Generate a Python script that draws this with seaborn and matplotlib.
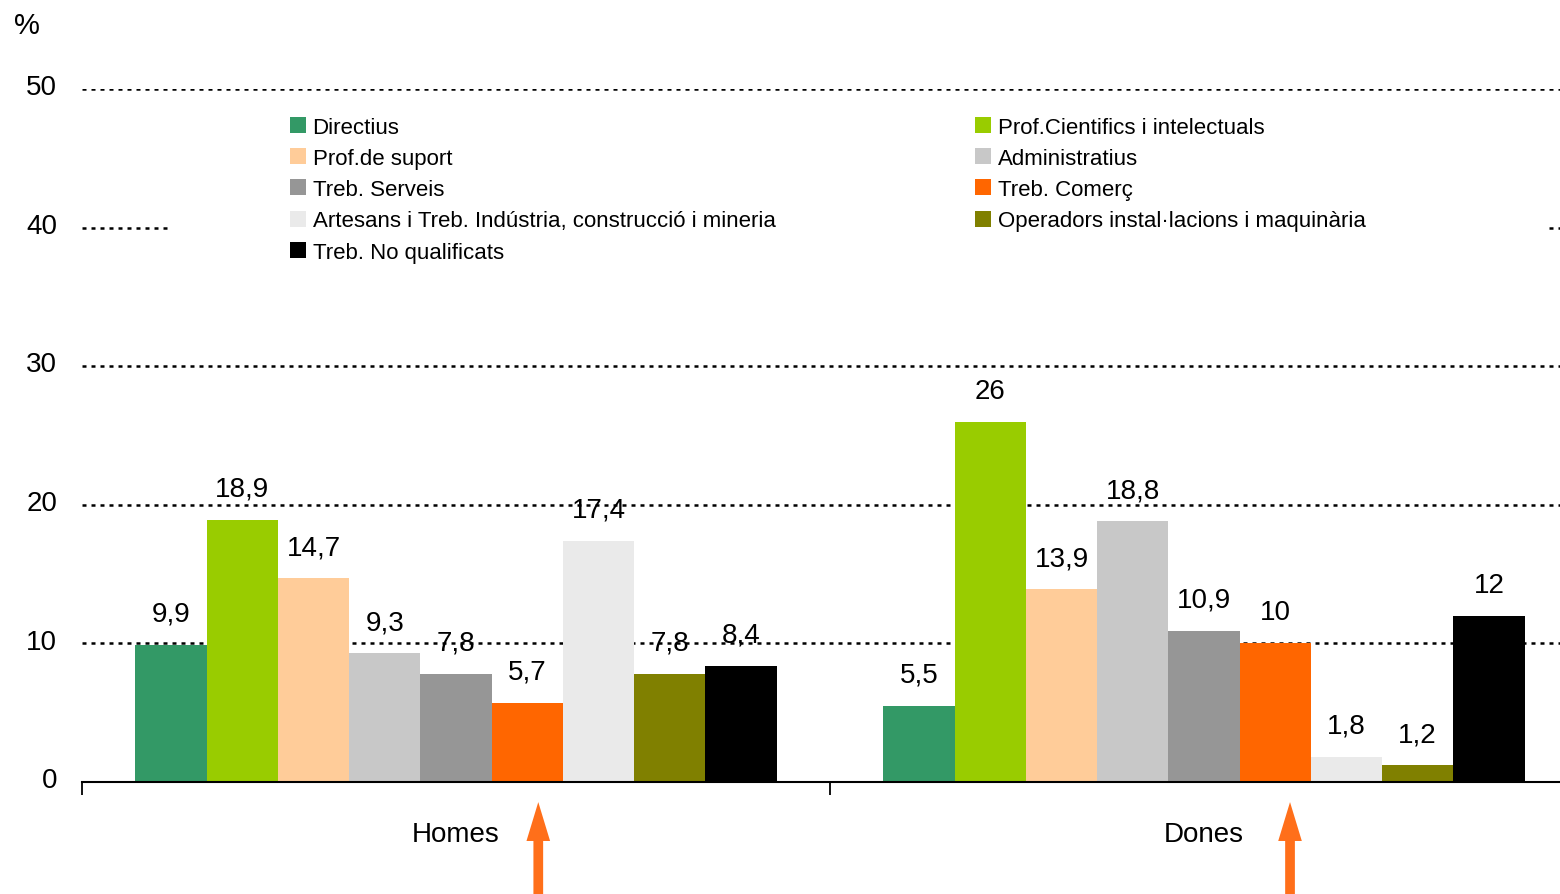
import matplotlib
matplotlib.use("Agg")
import matplotlib.pyplot as plt
from matplotlib.patches import Patch, Rectangle
from matplotlib.transforms import ScaledTranslation
import seaborn as sns
import pandas as pd

# ---- data ----
groups = ["Homes", "Dones"]
occupations = [
    "Directius",
    "Prof.Cientifics i intelectuals",
    "Prof.de suport",
    "Administratius",
    "Treb. Serveis",
    "Treb. Comerç",
    "Artesans i Treb. Indústria, construcció i mineria",
    "Operadors instal·lacions i maquinària",
    "Treb. No qualificats",
]
homes_values = [9.9, 18.9, 14.7, 9.3, 7.8, 5.7, 17.4, 7.8, 8.4]
dones_values = [5.5, 26.0, 13.9, 18.8, 10.9, 10.0, 1.8, 1.2, 12.0]
colors = ["#339966", "#99CC00", "#FFCC99", "#C8C8C8", "#969696",
          "#FF6600", "#EAEAEA", "#808000", "#000000"]
yticks = [0, 10, 20, 30, 40, 50]
arrow_x = [0.11, 1.115]

rows = []
for g, vals in zip(groups, [homes_values, dones_values]):
    for occ, v in zip(occupations, vals):
        rows.append({"grup": g, "ocupacio": occ, "valor": v})
df = pd.DataFrame(rows)

sns.set_style("white")
plt.rcParams["font.family"] = ["Liberation Sans", "DejaVu Sans"]
plt.rcParams["text.color"] = "black"
plt.rcParams["xtick.color"] = "black"
plt.rcParams["ytick.color"] = "black"
plt.rcParams["axes.labelcolor"] = "black"

W, H = 1560, 895
fig = plt.figure(figsize=(W / 100, H / 100), dpi=100)
ax = fig.add_axes([82 / W, 112 / H, 1496 / W, 693 / H])

sns.barplot(data=df, x="grup", y="valor", hue="ocupacio", order=groups,
            hue_order=occupations, palette=colors, width=0.857, gap=0,
            saturation=1, legend=False, ax=ax, linewidth=0, err_kws={"linewidth": 0})

ax.set_xlim(-0.5, 1.5)
ax.set_ylim(0, 50)
ax.set_yticks(yticks)
ax.set_yticklabels([str(t) for t in yticks], fontsize=20, color="black")
ax.tick_params(axis="y", length=0, pad=18, labelcolor="black")
shift = ScaledTranslation(0, 3.5 / 72, fig.dpi_scale_trans)
for lbl in ax.get_yticklabels():
    lbl.set_transform(lbl.get_transform() + shift)
ax.set_xlabel("")
ax.set_ylabel("")

ax.set_xticks([0, 1])
ax.set_xticklabels(groups, fontsize=20, color="black")
ax.tick_params(axis="x", which="major", length=0, pad=28, labelcolor="black")
ax.set_xticks([-0.5, 0.5, 1.5], minor=True)
ax.tick_params(axis="x", which="minor", bottom=True, length=9, width=1.3,
               direction="out", color="black")

for s in ["left", "top", "right"]:
    ax.spines[s].set_visible(False)
ax.spines["bottom"].set_color("black")
ax.spines["bottom"].set_linewidth(1.5)
ax.spines["bottom"].set_zorder(5)

ax.set_axisbelow(True)
ax.yaxis.grid(True, color="black", linewidth=1.8, linestyle=(0, (1.6, 2.0)))
ax.xaxis.grid(False)

# value labels
for cont in ax.containers:
    labels = []
    for bar in cont:
        v = bar.get_height()
        labels.append(f"{v:g}".replace(".", ","))
    ax.bar_label(cont, labels=labels, padding=13, fontsize=20, color="black")

# white box behind legend (covers gridlines)
ax.add_patch(Rectangle((0.060, 0.745), 0.92, 0.245, transform=ax.transAxes,
                       facecolor="white", edgecolor="none", zorder=2))

handles = [Patch(facecolor=c, edgecolor="none") for c in colors]
left_idx = [0, 2, 4, 6, 8]
right_idx = [1, 3, 5, 7]
leg_kw = dict(loc="upper left", frameon=False, fontsize=16, borderpad=0,
              borderaxespad=0, handlelength=0.72, handleheight=0.72,
              handletextpad=0.3, labelspacing=0.46, labelcolor="black")
leg1 = ax.legend([handles[i] for i in left_idx], [occupations[i] for i in left_idx],
                 bbox_to_anchor=(0.139, 0.960), **leg_kw)
leg1.set_zorder(6)
ax.add_artist(leg1)
leg2 = ax.legend([handles[i] for i in right_idx], [occupations[i] for i in right_idx],
                 bbox_to_anchor=(0.597, 0.960), **leg_kw)
leg2.set_zorder(6)

# orange arrows under the axis
for xa in arrow_x:
    ax.annotate("", xy=(xa, -0.029), xycoords=("data", "axes fraction"),
                xytext=(xa, -0.22), textcoords=("data", "axes fraction"),
                arrowprops=dict(width=7, headwidth=17, headlength=28,
                                facecolor="#FF6F1A", edgecolor="none", shrink=0),
                annotation_clip=False)

fig.text(27 / W, 1 - 26 / H, "%", ha="center", va="center", fontsize=21, color="black")

fig.savefig("out.png", dpi=100)
